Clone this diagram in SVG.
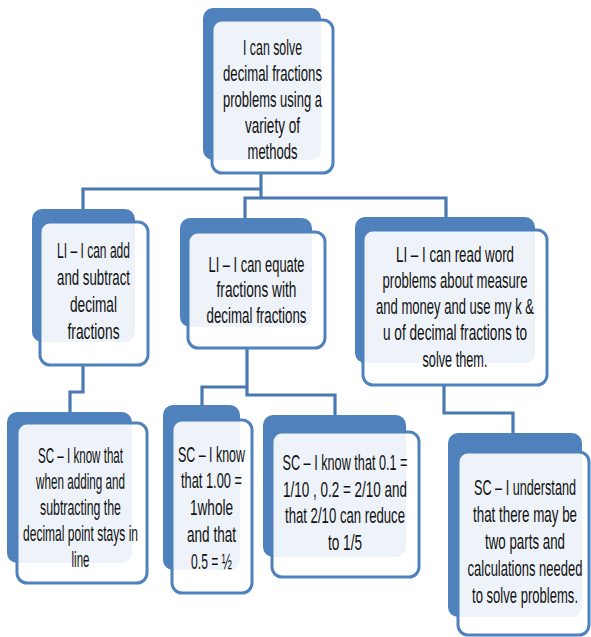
<svg xmlns="http://www.w3.org/2000/svg" width="591" height="637" viewBox="0 0 591 637">
<style>
.bk{fill:#4F81BD}
.fr{fill:#FFFFFF;fill-opacity:0.9;stroke:#4F81BD;stroke-width:3}
.cn{fill:none;stroke:#4A78B2;stroke-width:3.2;stroke-linejoin:miter}
text{font-family:"Liberation Sans",Arial,sans-serif;font-size:22px;fill:#111;text-anchor:middle}
</style>
<rect width="591" height="637" fill="#FFFFFF"/>
<g id="connectors">
<path class="cn" d="M261,173 V198 M261,189 H83 V212 M261,198 H245 V220 M261,198 H446 V220"/>
<path class="cn" d="M83,365 V392 H70 V414"/>
<path class="cn" d="M247,348 V395 H335 V418 M247,387 H202 V408"/>
<path class="cn" d="M444,385 V413 H513 V436"/>
</g>
<g id="top">
<rect class="bk" x="203" y="8" width="118" height="152" rx="10"/>
<rect class="fr" x="212" y="20" width="121" height="153" rx="10"/>
<text transform="translate(272.5,55) scale(0.62,1)" textLength="95.2" lengthAdjust="spacingAndGlyphs">I can solve</text>
<text transform="translate(272.5,81) scale(0.62,1)" textLength="159.7" lengthAdjust="spacingAndGlyphs">decimal fractions</text>
<text transform="translate(272.5,107) scale(0.62,1)" textLength="159.7" lengthAdjust="spacingAndGlyphs">problems using a</text>
<text transform="translate(272.5,133) scale(0.62,1)" textLength="88.7" lengthAdjust="spacingAndGlyphs">variety of</text>
<text transform="translate(272.5,159) scale(0.62,1)" textLength="80.6" lengthAdjust="spacingAndGlyphs">methods</text>
</g>
<g id="li1">
<rect class="bk" x="32" y="209" width="103" height="133" rx="10"/>
<rect class="fr" x="40" y="222" width="108" height="143" rx="10"/>
<text transform="translate(93.5,258) scale(0.62,1)" textLength="117.7" lengthAdjust="spacingAndGlyphs">LI – I can add</text>
<text transform="translate(93.5,285) scale(0.62,1)" textLength="117.7" lengthAdjust="spacingAndGlyphs">and subtract</text>
<text transform="translate(93.5,312) scale(0.62,1)" textLength="75.8" lengthAdjust="spacingAndGlyphs">decimal</text>
<text transform="translate(93.5,339) scale(0.62,1)" textLength="83.9" lengthAdjust="spacingAndGlyphs">fractions</text>
</g>
<g id="li2">
<rect class="bk" x="180" y="218" width="132" height="109" rx="10"/>
<rect class="fr" x="188" y="232" width="137" height="116" rx="10"/>
<text transform="translate(256.5,272) scale(0.62,1)" textLength="154.8" lengthAdjust="spacingAndGlyphs">LI – I can equate</text>
<text transform="translate(256.5,297) scale(0.62,1)" textLength="129" lengthAdjust="spacingAndGlyphs">fractions with</text>
<text transform="translate(256.5,323) scale(0.62,1)" textLength="161.3" lengthAdjust="spacingAndGlyphs">decimal fractions</text>
</g>
<g id="li3">
<rect class="bk" x="355" y="217" width="180" height="146" rx="10"/>
<rect class="fr" x="363" y="230" width="184" height="155" rx="10"/>
<text transform="translate(455,262) scale(0.62,1)" textLength="190.3" lengthAdjust="spacingAndGlyphs">LI – I can read word</text>
<text transform="translate(455,288) scale(0.62,1)" textLength="233.9" lengthAdjust="spacingAndGlyphs">problems about measure</text>
<text transform="translate(455,314) scale(0.62,1)" textLength="254.8" lengthAdjust="spacingAndGlyphs">and money and use my k &amp;</text>
<text transform="translate(455,340) scale(0.62,1)" textLength="232.3" lengthAdjust="spacingAndGlyphs">u of decimal fractions to</text>
<text transform="translate(455,367) scale(0.62,1)" textLength="104.8" lengthAdjust="spacingAndGlyphs">solve them.</text>
</g>
<g id="sc1">
<rect class="bk" x="7" y="412" width="125" height="151" rx="10"/>
<rect class="fr" x="17" y="423" width="130" height="160" rx="10"/>
<text transform="translate(80.5,463) scale(0.62,1)" textLength="137.1" lengthAdjust="spacingAndGlyphs">SC – I know that</text>
<text transform="translate(80.5,489) scale(0.62,1)" textLength="143.5" lengthAdjust="spacingAndGlyphs">when adding and</text>
<text transform="translate(80.5,515) scale(0.62,1)" textLength="130.6" lengthAdjust="spacingAndGlyphs">subtracting the</text>
<text transform="translate(80.5,541) scale(0.62,1)" textLength="185.5" lengthAdjust="spacingAndGlyphs">decimal point stays in</text>
<text transform="translate(80.5,567) scale(0.62,1)" textLength="29" lengthAdjust="spacingAndGlyphs">line</text>
</g>
<g id="sc2">
<rect class="bk" x="163" y="405" width="77" height="165" rx="10"/>
<rect class="fr" x="172" y="420" width="80" height="173" rx="10"/>
<text transform="translate(211.5,462) scale(0.62,1)" textLength="108.1" lengthAdjust="spacingAndGlyphs">SC – I know</text>
<text transform="translate(211.5,488) scale(0.62,1)" textLength="98.4" lengthAdjust="spacingAndGlyphs">that 1.00 =</text>
<text transform="translate(211.5,515) scale(0.62,1)" textLength="69.4" lengthAdjust="spacingAndGlyphs">1whole</text>
<text transform="translate(211.5,542) scale(0.62,1)" textLength="79" lengthAdjust="spacingAndGlyphs">and that</text>
<text transform="translate(211.5,569) scale(0.62,1)" textLength="66.1" lengthAdjust="spacingAndGlyphs">0.5 = ½</text>
</g>
<g id="sc3">
<rect class="bk" x="263" y="415" width="143" height="142" rx="10"/>
<rect class="fr" x="272" y="432" width="147" height="145" rx="10"/>
<text transform="translate(345,470) scale(0.62,1)" textLength="201.6" lengthAdjust="spacingAndGlyphs">SC – I know that 0.1 =</text>
<text transform="translate(345,497) scale(0.62,1)" textLength="200" lengthAdjust="spacingAndGlyphs">1/10 , 0.2 = 2/10 and</text>
<text transform="translate(345,523) scale(0.62,1)" textLength="193.5" lengthAdjust="spacingAndGlyphs">that 2/10 can reduce</text>
<text transform="translate(345,550) scale(0.62,1)" textLength="54.8" lengthAdjust="spacingAndGlyphs">to 1/5</text>
</g>
<g id="sc4">
<rect class="bk" x="448" y="433" width="134" height="184" rx="10"/>
<rect class="fr" x="458" y="452" width="131" height="183" rx="10"/>
<text transform="translate(525,495) scale(0.62,1)" textLength="164.5" lengthAdjust="spacingAndGlyphs">SC – I understand</text>
<text transform="translate(525,522) scale(0.62,1)" textLength="167.7" lengthAdjust="spacingAndGlyphs">that there may be</text>
<text transform="translate(525,549) scale(0.62,1)" textLength="129" lengthAdjust="spacingAndGlyphs">two parts and</text>
<text transform="translate(525,576) scale(0.62,1)" textLength="185.5" lengthAdjust="spacingAndGlyphs">calculations needed</text>
<text transform="translate(525,603) scale(0.62,1)" textLength="171" lengthAdjust="spacingAndGlyphs">to solve problems.</text>
</g>
</svg>
